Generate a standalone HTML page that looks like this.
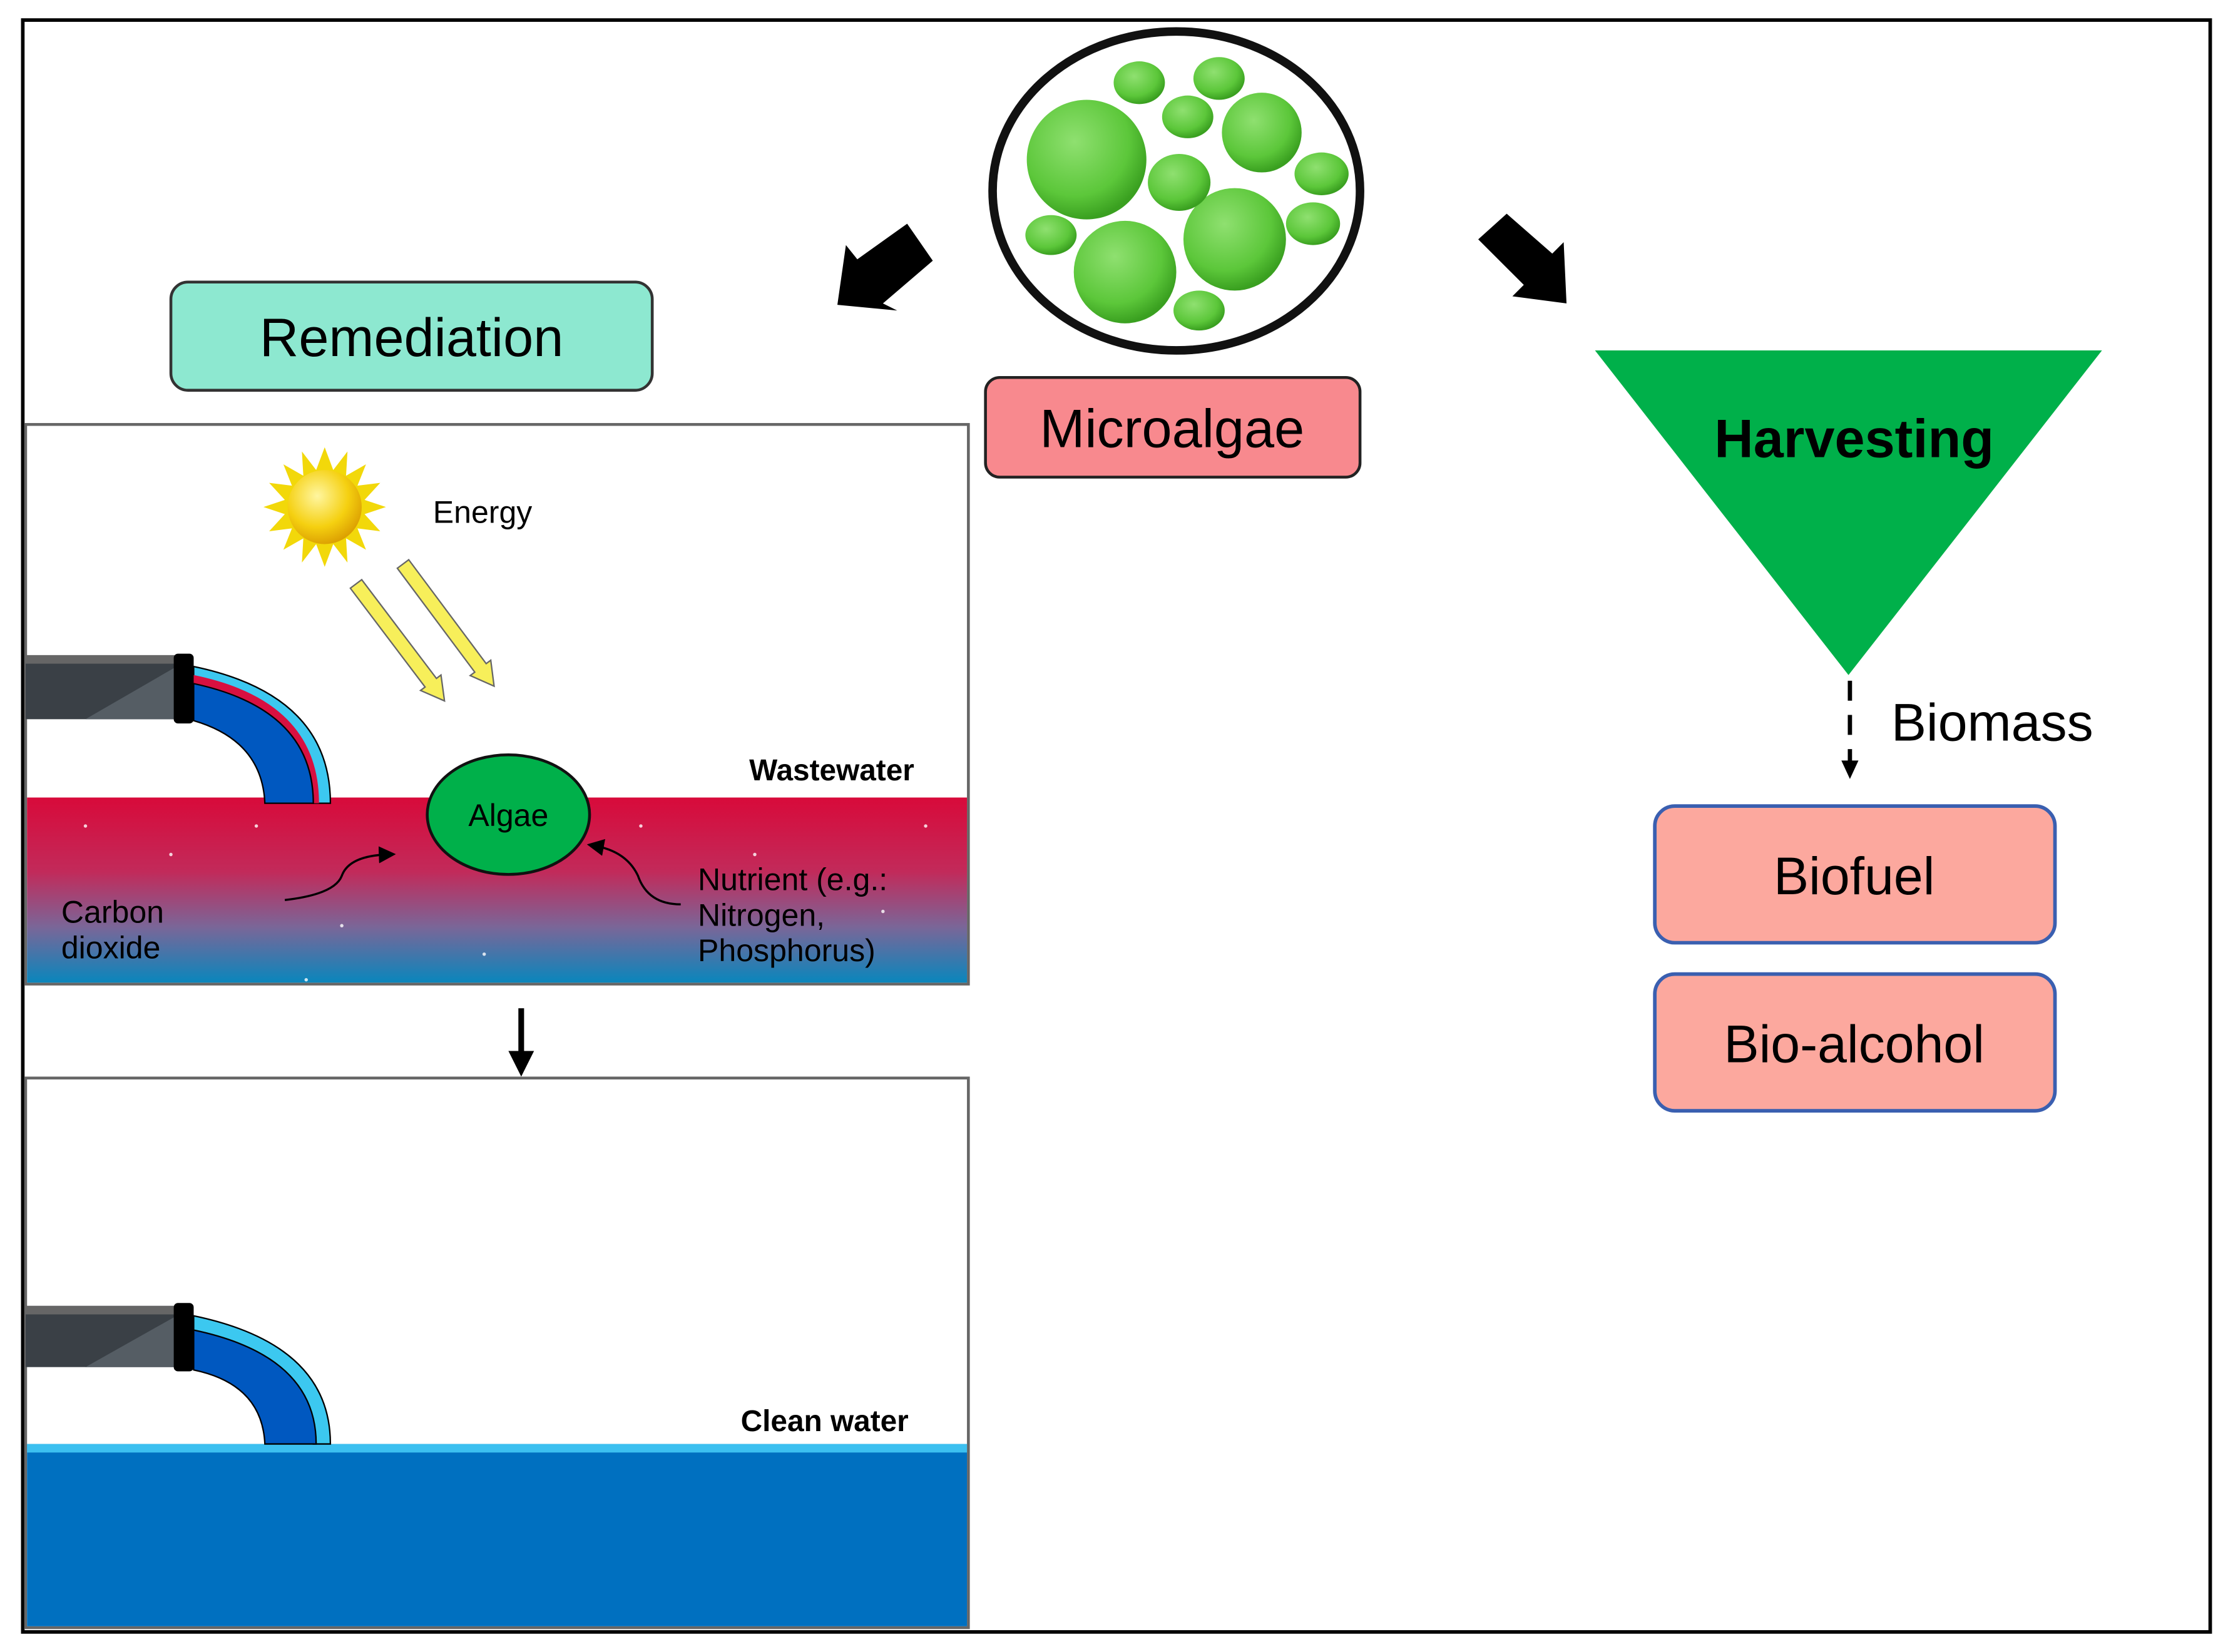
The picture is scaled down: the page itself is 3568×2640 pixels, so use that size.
<!DOCTYPE html>
<html><head><style>html,body{margin:0;padding:0;background:#fff}svg{display:block}</style></head>
<body>
<svg width="3568" height="2640" viewBox="0 0 1568 1160" xmlns="http://www.w3.org/2000/svg" font-family="Liberation Sans, sans-serif">
<defs>
<linearGradient id="ww" x1="0" y1="0" x2="0" y2="1">
<stop offset="0" stop-color="#d80a3a"/><stop offset="0.4" stop-color="#c22a5a"/><stop offset="0.7" stop-color="#7a6698"/><stop offset="1" stop-color="#0a86bc"/></linearGradient>
<radialGradient id="bl" cx="0.4" cy="0.35" r="0.65"><stop offset="0" stop-color="#8fe070"/><stop offset="0.7" stop-color="#5cc73a"/><stop offset="1" stop-color="#3aa020"/></radialGradient>
<radialGradient id="sun" cx="0.4" cy="0.35" r="0.7"><stop offset="0" stop-color="#fff6a0"/><stop offset="0.6" stop-color="#f5d010"/><stop offset="1" stop-color="#d99a00"/></radialGradient>
<marker id="ah" markerWidth="8" markerHeight="8" refX="4" refY="4" orient="auto"><path d="M0,0 L8,4 L0,8 Z" fill="#000"/></marker>
</defs>
<rect x="16" y="14" width="1536" height="1132" fill="#fff" stroke="#000" stroke-width="2.5"/>
<!-- Remediation -->
<rect x="120" y="198" width="338" height="76" rx="12" fill="#8de8d0" stroke="#333" stroke-width="2"/>
<text x="289" y="250" font-size="38" text-anchor="middle">Remediation</text>
<!-- Microalgae circle -->
<ellipse cx="826" cy="134" rx="129" ry="112" fill="#fff" stroke="#111" stroke-width="6"/>
<g fill="url(#bl)">
<circle cx="763" cy="112" r="42"/><circle cx="790" cy="191" r="36"/><circle cx="867" cy="168" r="36"/>
<circle cx="886" cy="93" r="28"/><ellipse cx="828" cy="128" rx="22" ry="20"/><ellipse cx="800" cy="58" rx="18" ry="15"/>
<ellipse cx="856" cy="55" rx="18" ry="15"/><ellipse cx="834" cy="82" rx="18" ry="15"/><ellipse cx="928" cy="122" rx="19" ry="15"/>
<ellipse cx="922" cy="157" rx="19" ry="15"/><ellipse cx="738" cy="165" rx="18" ry="14"/><ellipse cx="842" cy="218" rx="18" ry="14"/>
</g>
<rect x="692" y="265" width="263" height="70" rx="10" fill="#f8898e" stroke="#222" stroke-width="2"/>
<text x="823" y="314" font-size="38" text-anchor="middle">Microalgae</text>
<!-- big arrows -->
<polygon points="655,183 620,213 630,218 588,214 594,172 602,182 637,157" fill="#000"/>
<polygon points="1038,168 1070,200 1062,208 1100,213 1098,170 1090,178 1058,150" fill="#000"/>
<!-- Harvesting -->
<polygon points="1120,246 1476,246 1298,474" fill="#00b04a"/>
<text x="1302" y="321" font-size="38" font-weight="bold" text-anchor="middle">Harvesting</text>
<line x1="1299" y1="478" x2="1299" y2="538" stroke="#000" stroke-width="3" stroke-dasharray="14,10"/>
<polygon points="1293,534 1305,534 1299,547" fill="#000"/>
<text x="1328" y="520" font-size="37">Biomass</text>
<rect x="1162" y="566" width="281" height="96" rx="14" fill="#fca89e" stroke="#3a5fb0" stroke-width="2.5"/>
<text x="1302" y="628" font-size="37" text-anchor="middle">Biofuel</text>
<rect x="1162" y="684" width="281" height="96" rx="14" fill="#fca89e" stroke="#3a5fb0" stroke-width="2.5"/>
<text x="1302" y="746" font-size="37" text-anchor="middle">Bio-alcohol</text>
<!-- Wastewater panel -->
<rect x="18" y="298" width="662" height="393" fill="#fff" stroke="#666" stroke-width="2"/>
<rect x="19" y="560" width="660" height="130" fill="url(#ww)"/>
<g fill="#fff" opacity="0.8"><circle cx="60" cy="580" r="1.2"/><circle cx="120" cy="600" r="1.2"/><circle cx="240" cy="650" r="1.2"/><circle cx="450" cy="580" r="1.2"/><circle cx="530" cy="600" r="1.2"/><circle cx="620" cy="640" r="1.2"/><circle cx="340" cy="670" r="1.2"/><circle cx="180" cy="580" r="1.2"/><circle cx="215" cy="688" r="1.2"/><circle cx="650" cy="580" r="1.2"/></g>
<!-- sun -->
<g transform="translate(228,356)">
<polygon fill="#f2d80a" points="0,-42 6,-26 16,-39 15,-22 29,-30 23,-15 39,-17 28,-5 43,0 28,5 39,17 23,15 29,30 15,22 16,39 6,26 0,42 -6,26 -16,39 -15,22 -29,30 -23,15 -39,17 -28,5 -43,0 -28,-5 -39,-17 -23,-15 -29,-30 -15,-22 -16,-39 -6,-26"/>
<circle r="26" fill="url(#sun)"/>
</g>
<text x="304" y="367" font-size="22">Energy</text>
<!-- yellow arrows -->
<g fill="#f7ef5a" stroke="#666" stroke-width="1">
<polygon transform="translate(250,410) rotate(52.9)" points="0,-5 87,-5 87,-9 103,0 87,9 87,5 0,5"/>
<polygon transform="translate(283,396) rotate(53.3)" points="0,-5 91,-5 91,-9 107,0 91,9 91,5 0,5"/>
</g>
<!-- pipe -->
<rect x="18" y="460" width="106" height="45" fill="#3a4046"/>
<polygon points="60,505 124,505 124,468" fill="#555d64"/>
<rect x="18" y="460" width="106" height="6" fill="#666"/>
<rect x="122" y="459" width="14" height="49" rx="3" fill="#000"/>
<path d="M136,468 Q232,488 232,564 L220,564 Q218,500 136,484 Z" fill="#3cc8f0" stroke="#000" stroke-width="1"/>
<path d="M136,474 Q224,492 224,564 L186,564 Q184,515 136,504 Z" fill="#d81040"/>
<path d="M136,480 Q220,498 220,564 L186,564 Q184,520 136,506 Z" fill="#0058c0" stroke="#000" stroke-width="1"/>
<!-- algae -->
<ellipse cx="357" cy="572" rx="57" ry="42" fill="#00b04a" stroke="#111" stroke-width="2"/>
<text x="357" y="580" font-size="22" text-anchor="middle">Algae</text>
<path d="M200,632 Q235,628 240,615 Q245,601 272,600" fill="none" stroke="#000" stroke-width="1.5" marker-end="url(#ah)"/>
<path d="M478,635 Q455,635 448,615 Q440,598 418,594" fill="none" stroke="#000" stroke-width="1.5" marker-end="url(#ah)"/>
<text x="43" y="648" font-size="22">Carbon</text>
<text x="43" y="673" font-size="22">dioxide</text>
<text x="490" y="625" font-size="22">Nutrient (e.g.:</text>
<text x="490" y="650" font-size="22">Nitrogen,</text>
<text x="490" y="675" font-size="22">Phosphorus)</text>
<text x="642" y="548" font-size="21" font-weight="bold" text-anchor="end">Wastewater</text>
<!-- down arrow -->
<line x1="366" y1="708" x2="366" y2="742" stroke="#000" stroke-width="4"/>
<polygon points="357,738 375,738 366,756" fill="#000"/>
<!-- clean panel -->
<rect x="18" y="757" width="662" height="386" fill="#fff" stroke="#666" stroke-width="2"/>
<rect x="19" y="1014" width="660" height="128" fill="#0070c0"/>
<rect x="19" y="1014" width="660" height="6" fill="#3cc0f0"/>
<rect x="18" y="917" width="106" height="43" fill="#3a4046"/>
<polygon points="60,960 124,960 124,924" fill="#555d64"/>
<rect x="18" y="917" width="106" height="6" fill="#666"/>
<rect x="122" y="915" width="14" height="48" rx="3" fill="#000"/>
<path d="M136,924 Q232,944 232,1014 L220,1014 Q218,955 136,940 Z" fill="#3cc8f0" stroke="#000" stroke-width="1"/>
<path d="M136,934 Q222,952 222,1014 L186,1014 Q184,972 136,962 Z" fill="#0058c0" stroke="#000" stroke-width="1"/>
<text x="638" y="1005" font-size="21" font-weight="bold" text-anchor="end">Clean water</text>
</svg>
</body></html>
